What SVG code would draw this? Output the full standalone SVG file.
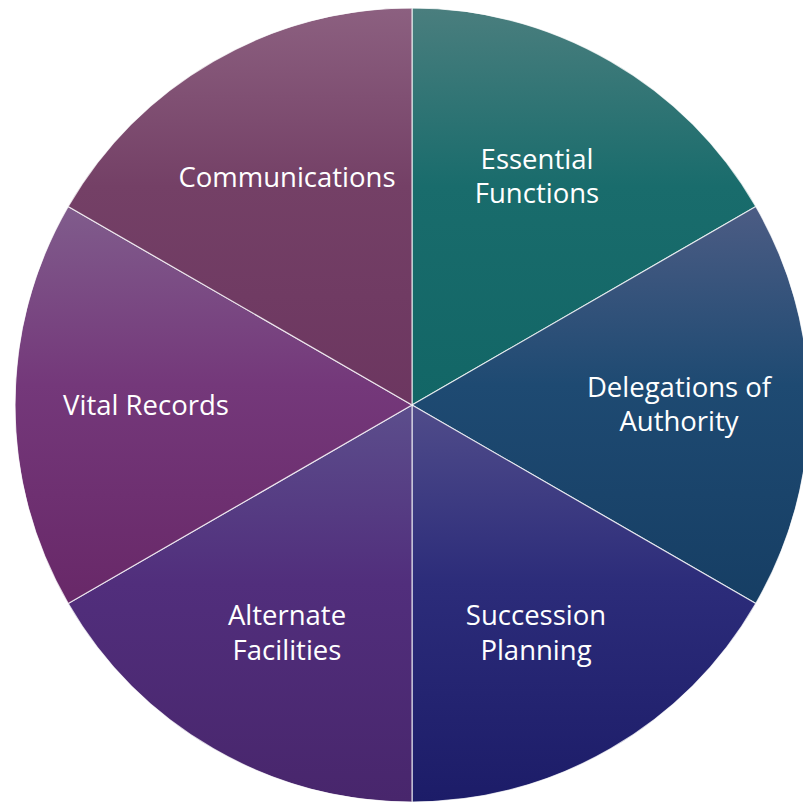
<svg xmlns="http://www.w3.org/2000/svg" width="803" height="802" viewBox="0 0 803 802">
<style>
.s{stroke:#ffffff;stroke-width:1.2;stroke-opacity:0.75}
.t{font-family:"Open Sans","Liberation Sans",sans-serif;font-size:27.5px;fill:#ffffff;text-anchor:middle}
</style>
<defs>
<linearGradient id="gEss" x1="0" y1="0" x2="0" y2="1"><stop offset="0" stop-color="#4A7E7E"/><stop offset="0.45" stop-color="#196C6C"/><stop offset="1" stop-color="#126666"/></linearGradient>
<linearGradient id="gDel" x1="0" y1="0" x2="0" y2="1"><stop offset="0" stop-color="#4C5C84"/><stop offset="0.45" stop-color="#1E4A72"/><stop offset="1" stop-color="#163E64"/></linearGradient>
<linearGradient id="gSuc" x1="0" y1="0" x2="0" y2="1"><stop offset="0" stop-color="#504C8A"/><stop offset="0.45" stop-color="#2C2C7A"/><stop offset="1" stop-color="#1C1C68"/></linearGradient>
<linearGradient id="gAlt" x1="0" y1="0" x2="0" y2="1"><stop offset="0" stop-color="#5C4E8C"/><stop offset="0.45" stop-color="#512E7C"/><stop offset="1" stop-color="#48266C"/></linearGradient>
<linearGradient id="gVit" x1="0" y1="0" x2="0" y2="1"><stop offset="0" stop-color="#805C8C"/><stop offset="0.45" stop-color="#74387A"/><stop offset="1" stop-color="#682868"/></linearGradient>
<linearGradient id="gCom" x1="0" y1="0" x2="0" y2="1"><stop offset="0" stop-color="#8C6080"/><stop offset="0.45" stop-color="#744066"/><stop offset="1" stop-color="#6C3660"/></linearGradient>
</defs>
<g id="essential-functions">
<path class="s" fill="url(#gEss)" d="M412,405 L412,8 A397,397 0 0 1 755.8,206.5 Z"/>
<text class="t" x="537" y="169">Essential</text>
<text class="t" x="537" y="203">Functions</text>
</g>
<g id="delegations-of-authority">
<path class="s" fill="url(#gDel)" d="M412,405 L755.8,206.5 A397,397 0 0 1 755.8,603.5 Z"/>
<text class="t" x="679" y="397">Delegations of</text>
<text class="t" x="679" y="431">Authority</text>
</g>
<g id="succession-planning">
<path class="s" fill="url(#gSuc)" d="M412,405 L755.8,603.5 A397,397 0 0 1 412,802 Z"/>
<text class="t" x="536" y="625">Succession</text>
<text class="t" x="536" y="660">Planning</text>
</g>
<g id="alternate-facilities">
<path class="s" fill="url(#gAlt)" d="M412,405 L412,802 A397,397 0 0 1 68.2,603.5 Z"/>
<text class="t" x="287" y="625">Alternate</text>
<text class="t" x="287" y="660">Facilities</text>
</g>
<g id="vital-records">
<path class="s" fill="url(#gVit)" d="M412,405 L68.2,603.5 A397,397 0 0 1 68.2,206.5 Z"/>
<text class="t" x="146" y="415">Vital Records</text>
</g>
<g id="communications">
<path class="s" fill="url(#gCom)" d="M412,405 L68.2,206.5 A397,397 0 0 1 412,8 Z"/>
<text class="t" x="287" y="187">Communications</text>
</g>
<g id="connectors"></g>
</svg>
